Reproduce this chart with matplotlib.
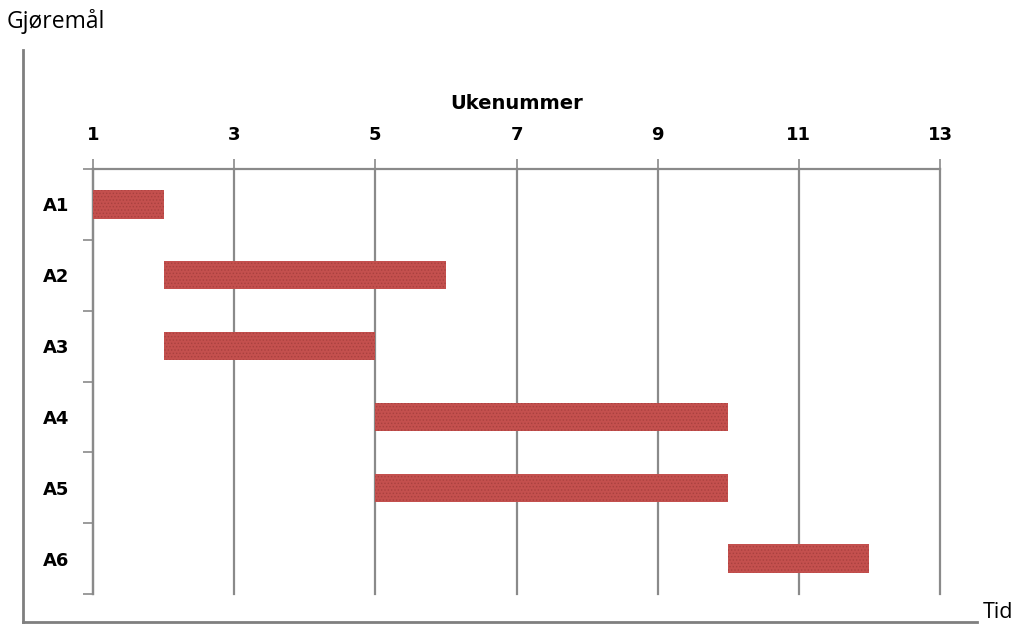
import matplotlib
matplotlib.use('Agg')
import matplotlib.pyplot as plt
from matplotlib.lines import Line2D

# data
tasks = ['A1', 'A2', 'A3', 'A4', 'A5', 'A6']
start = [1, 2, 2, 5, 5, 10]
end = [2, 6, 5, 10, 10, 12]
week_ticks = [1, 3, 5, 7, 9, 11, 13]

W, H = 1021, 626
fig = plt.figure(figsize=(W / 100, H / 100), dpi=100)
fig.patch.set_facecolor('white')

ax = fig.add_axes([93 / W, 1 - 594 / H, 847 / W, 425 / H])

plt.rcParams['hatch.linewidth'] = 0.6
ypos = list(range(len(tasks)))
widths = [e - s for s, e in zip(start, end)]
ax.barh(ypos, widths, left=start, height=0.4, color='#C4504E',
        edgecolor='#A9413F', hatch='.....', linewidth=0, zorder=3)

ax.set_xlim(week_ticks[0], week_ticks[-1])
ax.set_ylim(len(tasks) - 0.5, -0.5)

grid_col = '#8a8a8a'
ax.xaxis.tick_top()
ax.set_xticks(week_ticks)
ax.set_xticklabels([str(t) for t in week_ticks], fontsize=13, fontweight='bold')
ax.tick_params(axis='x', length=7, width=1.2, color=grid_col, pad=11)
ax.xaxis.set_label_position('top')
ax.set_xlabel('Ukenummer', fontsize=14, fontweight='bold', labelpad=12)
ax.grid(axis='x', color=grid_col, linewidth=1.6, zorder=0)
for gl in ax.get_xgridlines():
    gl.set_clip_on(False)

ax.set_yticks(ypos)
ax.set_yticklabels(tasks, fontsize=13, fontweight='bold')
ax.set_yticks([y - 0.5 for y in range(len(tasks) + 1)], minor=True)
ax.tick_params(axis='y', which='major', length=0, pad=17)
ax.tick_params(axis='y', which='minor', length=7, width=1.2, color=grid_col)

for side in ['right', 'bottom']:
    ax.spines[side].set_visible(False)
for side in ['top', 'left']:
    ax.spines[side].set_color(grid_col)
    ax.spines[side].set_linewidth(1.6)

# outer L-shaped axes
line_col = '#7f7f7f'
fig.add_artist(Line2D([23 / W, 23 / W], [1 - 50 / H, 1 - 622 / H],
                      transform=fig.transFigure, color=line_col, linewidth=2))
fig.add_artist(Line2D([23 / W, 977 / W], [1 - 622 / H, 1 - 622 / H],
                      transform=fig.transFigure, color=line_col, linewidth=2))
fig.text(7 / W, 1 - 22 / H, 'Gjøremål', fontsize=16.5, family='Open Sans',
         va='center', ha='left')
fig.text(983 / W, 1 - 612 / H, 'Tid', fontsize=15.5, family='Open Sans',
         va='center', ha='left')

fig.savefig('out.png', dpi=100)
